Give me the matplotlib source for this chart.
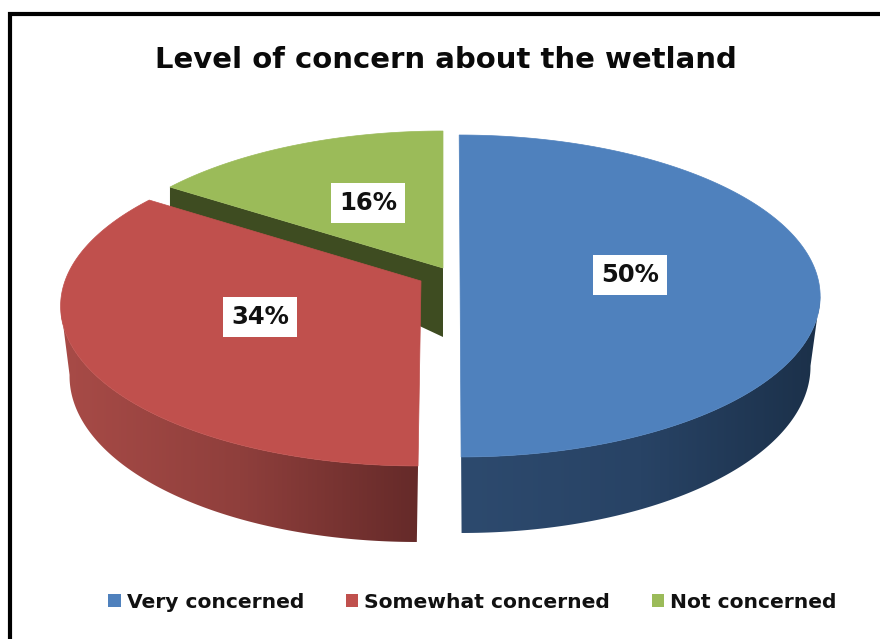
import numpy as np
import matplotlib
matplotlib.use("Agg")
import matplotlib.pyplot as plt
from matplotlib.colors import LinearSegmentedColormap
from matplotlib.patches import Patch, Polygon

title = "Level of concern about the wetland"
categories = ["Very concerned", "Somewhat concerned", "Not concerned"]
values = [50, 34.4, 15.6]

colors = ["#4f81bd", "#c0504d", "#9bbb59"]
rim_colors = [["#2d4a6e", "#284365", "#1b3049"],
              ["#a84b47", "#8f3f3c", "#652a29"],
              ["#3e4c21", "#3e4c21", "#3e4c21"]]
apex = [(460, 272), (421, 281), (443, 268)]
lean = [0.006, -0.016, 0]  # cut edges are not quite vertical
label_pos = [(630, 275), (260, 317), (368, 203)]

RX, RY, PERSP = 356, 157.4, 0.149
WALL = 69
BOTTOM_X, BOTTOM_Y = 0.972, 1.038  # lower rim is narrower but hangs lower


def project(theta, i, bottom=False):
    # flat disc seen in perspective, the far side comes out smaller
    c, s = np.cos(theta), np.sin(theta)
    w = 1 + PERSP * s
    dx, dy = RX * c / w, -RY * s / w
    drop = 0
    if bottom:
        dx, dy, drop = dx * BOTTOM_X, dy * BOTTOM_Y, WALL
    return apex[i][0] + dx + lean[i] * (dy + drop), apex[i][1] + dy + drop


def arc(a0, a1, i, bottom=False):
    t = np.linspace(a0, a1, 150)
    return np.column_stack(project(t, i, bottom))


fig = plt.figure(figsize=(8.8, 6.39), dpi=100)
ax = fig.add_axes([0, 0, 1, 1])

# slices go clockwise from 12 o'clock
ends = np.pi / 2 - 2 * np.pi * np.cumsum(values) / sum(values)
starts = np.r_[np.pi / 2, ends[:-1]]
side = np.arcsin(PERSP)  # where the disc is widest


def draw_rim(i, zorder):
    # only the front part of the rim shows
    a0 = min(starts[i], -side)
    a1 = max(ends[i], -np.pi + side)
    top = arc(a0, a1, i)
    bottom = arc(a1, a0, i, bottom=True)
    poly = Polygon(np.vstack([top, bottom]), closed=True, fc="none", ec="none", zorder=zorder)
    ax.add_patch(poly)
    cmap = LinearSegmentedColormap.from_list("rim", rim_colors[i])
    xs = np.r_[top[:, 0], bottom[:, 0]]
    ys = np.r_[top[:, 1], bottom[:, 1]]
    im = ax.imshow(np.linspace(0, 1, 256)[None, :], cmap=cmap, aspect="auto",
                   extent=(xs.min(), xs.max(), ys.max(), ys.min()), zorder=zorder)
    im.set_clip_path(poly)


def draw_top(i, zorder):
    pts = np.vstack([[apex[i]], arc(starts[i], ends[i], i)])
    ax.add_patch(Polygon(pts, closed=True, fc=colors[i], ec=colors[i], lw=0.5, zorder=zorder))


# green cut wall sits behind the red slice
g = 2
edge = project(starts[g], g)
wall = [apex[g], edge, (edge[0], edge[1] + 22), (apex[g][0], apex[g][1] + WALL)]
ax.add_patch(Polygon(wall, closed=True, fc=rim_colors[g][0], ec="none", zorder=1))
draw_top(g, 2)

draw_rim(1, 3)
draw_top(1, 4)
draw_rim(0, 3)
draw_top(0, 4)

for v, (x, y) in zip(values, label_pos):
    ax.text(x, y, f"{v:.0f}%", ha="center", va="center", fontsize=17.5, fontweight="bold",
            color="#111111", zorder=6,
            bbox=dict(fc="white", ec="none", pad=6))

ax.text(446, 60, title, ha="center", va="center", fontsize=21, fontweight="bold", color="#0a0a0a")

# chart frame, only the left and top sides are in the crop
ax.plot([10, 10, 880], [639, 14, 14], color="black", lw=3, solid_joinstyle="miter", zorder=7)

handles = [Patch(fc=c, ec="none") for c in colors]
ax.legend(handles, categories, loc="center", bbox_to_anchor=(472.5 / 880, 1 - 602 / 639),
          ncol=3, frameon=False, handlelength=0.62, handleheight=0.62, handletextpad=0.3,
          columnspacing=2.05, prop={"size": 14.6, "weight": "bold"}, labelcolor="#111111")

ax.set_xlim(0, 880)
ax.set_ylim(639, 0)
ax.axis("off")
fig.savefig("out.png", dpi=100)
